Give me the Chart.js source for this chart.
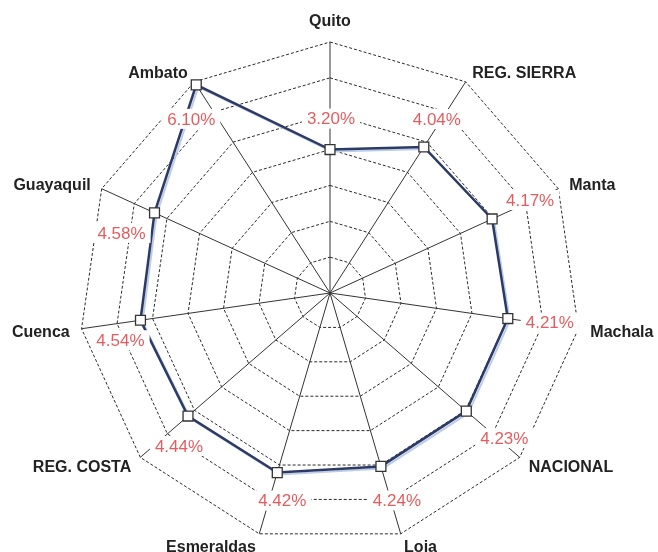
<!DOCTYPE html>
<html>
<head>
<meta charset="utf-8">
<script src="https://cdn.jsdelivr.net/npm/chart.js@4.4.1/dist/chart.umd.min.js"></script>
<style>
  html, body { margin: 0; padding: 0; background: #ffffff; }
  canvas { display: block; }
</style>
</head>
<body>
<canvas id="chart" width="658" height="552"></canvas>
<script>
// Unemployment rate by city / region (%)
const categories = ['Quito', 'REG. SIERRA', 'Manta', 'Machala', 'NACIONAL', 'Loja',
                    'Esmeraldas', 'REG. COSTA', 'Cuenca', 'Guayaquil', 'Ambato'];
const rates = [3.20, 4.04, 4.17, 4.21, 4.23, 4.24, 4.42, 4.44, 4.54, 4.58, 6.10];

// Radial axis range: seven rings one unit apart
const axisMin = -0.8;
const axisMax = 6.2;
const axisStep = 1;

// Where each value label sits relative to its marker, in pixels [dx, dy]
const valueLabelOffsets = [
  [1, -31], [13, -28], [38, -19], [42, 4], [38, 27], [16, 34],
  [5, 28], [-9, 30], [-20, 20], [-33, 20], [-5, 34]
];

// Light offset stroke drawn underneath the series outline
const shadowLine = {
  id: 'shadowLine',
  beforeDatasetDraw(chart, args, opts) {
    const pts = chart.getDatasetMeta(args.index).data;
    const ctx = chart.ctx;
    ctx.save();
    ctx.strokeStyle = opts.color;
    ctx.lineWidth = opts.width;
    ctx.lineJoin = 'round';
    ctx.beginPath();
    pts.forEach((p, i) => {
      const x = p.x + opts.dx, y = p.y + opts.dy;
      if (i === 0) ctx.moveTo(x, y); else ctx.lineTo(x, y);
    });
    ctx.closePath();
    ctx.stroke();
    ctx.restore();
  }
};

// Category names around the outer ring, placed with the radial scale
const categoryLabels = {
  id: 'categoryLabels',
  afterDraw(chart, args, opts) {
    const scale = chart.scales.r;
    const ctx = chart.ctx;
    ctx.save();
    ctx.font = opts.font;
    ctx.fillStyle = opts.color;
    ctx.textBaseline = 'middle';
    chart.data.labels.forEach((label, i) => {
      const p = scale.getPointPosition(i, scale.drawingArea + opts.padding);
      const a = scale.getIndexAngle(i);
      const s = Math.sin(a), c = Math.cos(a);
      let y = p.y;
      if (Math.abs(s) < 0.01) {
        ctx.textAlign = 'center';
        y -= c * opts.halfHeight;
      } else {
        ctx.textAlign = s > 0 ? 'left' : 'right';
        y += opts.shiftY;
      }
      ctx.fillText(label, p.x, y);
    });
    ctx.restore();
  }
};

// Percentage labels on white boxes next to each marker
const valueLabels = {
  id: 'valueLabels',
  afterDatasetsDraw(chart, args, opts) {
    const ctx = chart.ctx;
    const meta = chart.getDatasetMeta(0);
    const values = chart.data.datasets[0].data;
    ctx.save();
    ctx.font = opts.font;
    ctx.textAlign = 'center';
    ctx.textBaseline = 'middle';
    meta.data.forEach((pt, i) => {
      const [dx, dy] = opts.offsets[i];
      const x = pt.x + dx, y = pt.y + dy;
      const text = values[i].toFixed(2) + '%';
      const w = ctx.measureText(text).width;
      ctx.fillStyle = '#ffffff';
      ctx.fillRect(x - w / 2 - opts.padX, y - opts.boxHalf, w + 2 * opts.padX, 2 * opts.boxHalf);
      ctx.fillStyle = opts.color;
      ctx.fillText(text, x, y + 1);
    });
    ctx.restore();
  }
};

new Chart(document.getElementById('chart'), {
  type: 'radar',
  data: {
    labels: categories,
    datasets: [{
      data: rates,
      borderColor: '#2d3a66',
      borderWidth: 2.5,
      backgroundColor: 'rgba(0,0,0,0)',
      fill: false,
      tension: 0,
      pointStyle: 'rect',
      pointRadius: 7,
      pointHoverRadius: 7,
      pointBackgroundColor: '#ffffff',
      pointBorderColor: '#333333',
      pointBorderWidth: 1.3
    }]
  },
  options: {
    responsive: false,
    animation: false,
    events: [],
    layout: { padding: { left: 79, right: 77, top: 42, bottom: 8 } },
    plugins: {
      legend: { display: false },
      tooltip: { enabled: false },
      shadowLine: { color: '#bccde8', width: 2, dx: 2, dy: 2 },
      categoryLabels: {
        font: 'bold 16px "Liberation Sans", Arial, sans-serif',
        color: '#222222',
        padding: 12,
        halfHeight: 8,
        shiftY: 2
      },
      valueLabels: {
        font: '17px "Liberation Sans", Arial, sans-serif',
        color: '#e35d60',
        offsets: valueLabelOffsets,
        padX: 5,
        boxHalf: 10
      }
    },
    scales: {
      r: {
        min: axisMin,
        max: axisMax,
        ticks: { display: false, stepSize: axisStep },
        pointLabels: { display: false },
        grid: { color: '#2a2a2a', lineWidth: 1, circular: false },
        border: { dash: [3, 2] },
        angleLines: { color: '#333333', lineWidth: 1 }
      }
    }
  },
  plugins: [shadowLine, categoryLabels, valueLabels]
});
</script>
</body>
</html>
